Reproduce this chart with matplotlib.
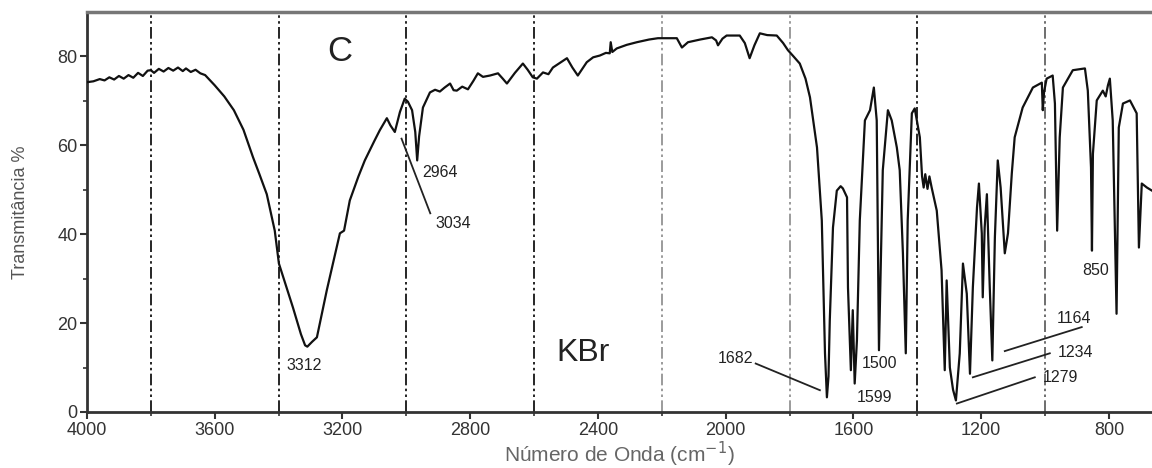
import numpy as np
import matplotlib
matplotlib.use("Agg")
import matplotlib.pyplot as plt

plt.rcParams['font.family'] = ['Liberation Sans', 'DejaVu Sans']

# FTIR spectrum
wavenumber = [4000, 3980, 3960, 3945, 3930, 3915, 3900, 3885, 3870, 3855, 3840, 3825, 3810, 3800,
              3790, 3775, 3760, 3745, 3730, 3715, 3700, 3690, 3675, 3660, 3645, 3630, 3600, 3570,
              3540, 3510, 3480, 3460, 3437, 3412, 3399, 3355, 3330, 3317, 3310, 3295, 3280, 3249,
              3220, 3208, 3195, 3177, 3150, 3130, 3100, 3083, 3070, 3061, 3050, 3036, 3020, 3005,
              2995, 2982, 2972, 2966, 2960, 2948, 2926, 2910, 2895, 2880, 2863, 2852, 2842, 2825,
              2807, 2790, 2776, 2760, 2738, 2713, 2698, 2685, 2660, 2635, 2620, 2604, 2591, 2572,
              2555, 2541, 2520, 2497, 2480, 2463, 2435, 2415, 2394, 2375, 2363, 2360, 2355, 2341,
              2310, 2278, 2240, 2212, 2180, 2153, 2137, 2118, 2080, 2043, 2030, 2024, 2010, 1997,
              1956, 1940, 1925, 1910, 1893, 1870, 1840, 1820, 1805, 1790, 1768, 1750, 1736, 1714,
              1699, 1689, 1683, 1678, 1674, 1664, 1652, 1640, 1633, 1620, 1617, 1608, 1602, 1596,
              1589, 1580, 1564, 1548, 1536, 1527, 1520, 1508, 1492, 1480, 1464, 1455, 1445, 1436,
              1430, 1417, 1408, 1392, 1385, 1380, 1375, 1368, 1362, 1355, 1339, 1324, 1314, 1308,
              1298, 1288, 1279, 1267, 1257, 1245, 1235, 1226, 1213, 1207, 1198, 1195, 1189, 1182,
              1173, 1165, 1157, 1148, 1139, 1126, 1116, 1104, 1095, 1070, 1038, 1010, 1007, 1003,
              995, 976, 969, 962, 954, 944, 913, 875, 866, 856, 853, 850, 838, 819,
              810, 803, 797, 788, 776, 769, 756, 734, 713, 706, 697, 681, 665]
transmittance = [74.2, 74.4, 74.9, 74.6, 75.3, 74.8, 75.6, 75.0, 75.8, 75.2, 76.3, 75.6, 76.8, 76.9,
                 76.3, 77.2, 76.6, 77.4, 76.8, 77.5, 76.7, 77.3, 76.5, 77.0, 76.2, 75.8, 73.5, 71.0,
                 67.9, 63.5, 57.3, 53.5, 49.0, 40.8, 33.4, 23.5, 17.5, 15.0, 14.7, 15.8, 16.8, 27.4,
                 36.5, 40.2, 40.8, 47.6, 53.0, 56.6, 61.0, 63.4, 65.0, 66.1, 64.5, 63.0, 67.5, 70.5,
                 69.8, 67.9, 63.0, 56.6, 62.0, 68.5, 71.9, 72.5, 72.1, 73.0, 73.9, 72.4, 72.3, 73.2,
                 72.6, 74.5, 76.2, 75.4, 75.7, 76.2, 75.0, 73.9, 76.3, 78.4, 77.0, 75.3, 75.0, 76.4,
                 76.0, 77.5, 78.5, 79.6, 77.5, 75.7, 78.7, 79.8, 80.2, 80.8, 80.7, 83.2, 81.0, 81.8,
                 82.6, 83.2, 83.8, 84.1, 84.1, 84.1, 82.0, 83.2, 83.8, 84.3, 83.6, 82.5, 84.0, 84.7,
                 84.7, 83.0, 79.6, 82.5, 85.2, 84.8, 84.7, 83.0, 81.4, 80.2, 78.4, 75.0, 70.8, 59.5,
                 43.1, 13.2, 3.3, 8.0, 20.6, 41.5, 49.8, 50.8, 50.3, 48.3, 28.0, 9.4, 22.9, 6.4,
                 16.1, 43.1, 65.6, 67.9, 73.0, 65.6, 13.9, 54.4, 67.9, 65.6, 59.5, 54.4, 35.7, 13.2,
                 43.1, 67.2, 68.3, 61.8, 53.0, 50.5, 53.5, 50.2, 53.0, 50.5, 45.3, 31.9, 9.4, 29.6,
                 10.0, 5.0, 2.6, 13.2, 33.4, 26.6, 8.6, 28.0, 46.0, 51.4, 40.2, 25.8, 41.5, 49.0,
                 28.0, 11.6, 39.3, 56.6, 50.5, 35.7, 40.2, 53.7, 61.8, 68.5, 73.0, 74.1, 67.9, 72.0,
                 75.0, 75.7, 69.4, 40.8, 61.8, 73.0, 76.9, 77.3, 72.3, 55.0, 36.3, 58.1, 70.1, 72.3,
                 71.0, 73.5, 75.0, 65.6, 22.1, 64.0, 69.4, 70.1, 67.2, 37.0, 51.4, 50.5, 49.8]

ref_lines = [3800, 3400, 3000, 2600, 2200, 1800, 1400, 1000]
ref_colors = ['k', 'k', 'k', 'k', '#8a8a8a', '#8a8a8a', 'k', '#555555']

# peak labels: text, text position, leader line (start, end) or None
peak_labels = ['3312', '2964', '3034', '1682', '1500', '1599', '1164', '1234', '1279', '850']
label_xy = [(3376, 10.5), (2951, 53.9), (2910, 42.4), (2025, 12.1), (1573, 10.9),
            (1589, 3.3), (962, 21.1), (960, 13.4), (1007, 7.8), (882, 31.9)]
leaders = [None, None, ((3015, 61.5), (2925, 44.7)), ((1906, 10.9), (1705, 4.9)), None,
           None, ((1126, 13.7), (885, 19.1)), ((1226, 7.8), (985, 13.2)),
           ((1276, 1.9), (1032, 7.8)), None]

fig = plt.figure(figsize=(11.52, 4.68), dpi=100)
ax = fig.add_axes([0.0755, 0.1197, 0.9245, 0.8547])

for xv, c in zip(ref_lines, ref_colors):
    ax.axvline(xv, color=c, lw=1.2, linestyle=(0, (7, 2, 1.5, 2, 1.5, 2)), zorder=1)

ax.plot(wavenumber, transmittance, color='#111111', lw=1.6, zorder=3)

for txt, (tx, ty), ld in zip(peak_labels, label_xy, leaders):
    ax.text(tx, ty, txt, fontsize=11.5, ha='left', va='center', color='#222222')
    if ld is not None:
        ax.plot([ld[0][0], ld[1][0]], [ld[0][1], ld[1][1]], color='#222222', lw=1.3)

ax.text(3208, 81, 'C', fontsize=25, ha='center', va='center', color='#222222')
ax.text(2447, 13.2, 'KBr', fontsize=23, ha='center', va='center', color='#222222')

ax.set_xlim(4000, 665)
ax.set_ylim(0, 90)
ax.set_xticks([4000, 3600, 3200, 2800, 2400, 2000, 1600, 1200, 800])
ax.set_xticks(ref_lines, minor=True)
ax.set_yticks([0, 20, 40, 60, 80])
ax.set_yticks([10, 30, 50, 70], minor=True)
ax.tick_params(which='major', direction='out', length=5, width=1.5, labelsize=13,
               colors='#333333', pad=2)
ax.tick_params(which='minor', direction='out', length=3, width=1.2, colors='#333333')

ax.spines['right'].set_visible(False)
for s in ['left', 'bottom']:
    ax.spines[s].set_linewidth(2.0)
    ax.spines[s].set_color('#333333')
ax.spines['top'].set_linewidth(2.5)
ax.spines['top'].set_color('#777777')

ax.set_xlabel('Número de Onda (cm$^{-1}$)', fontsize=15, color='#666666', labelpad=1)
ax.set_ylabel('Transmitância %', fontsize=13, color='#555555', labelpad=20)

plt.savefig('out.png', dpi=100)
